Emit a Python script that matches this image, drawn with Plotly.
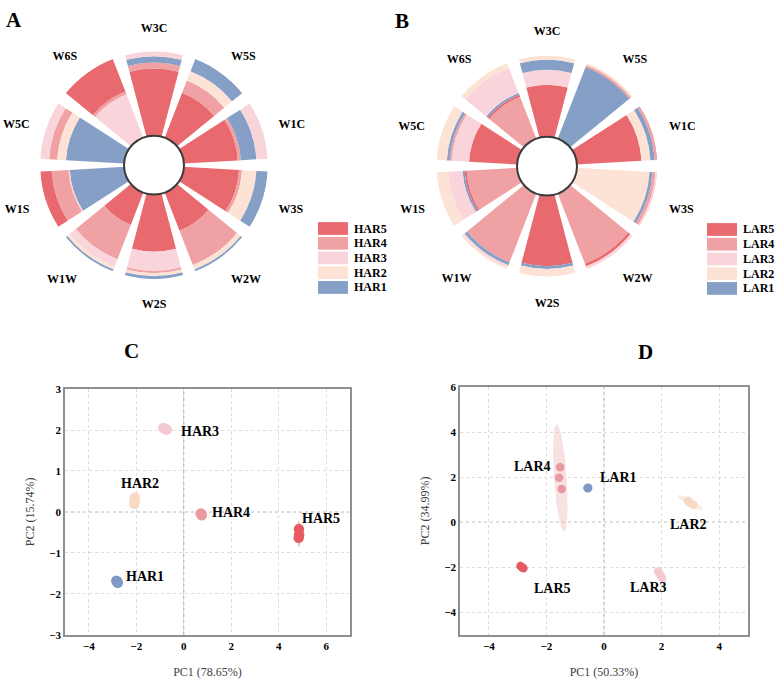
import numpy as np
import plotly.graph_objects as go

W, H = 776, 681
SERIF = "Liberation Serif"

# ---------------- data: rose charts (percent share per category) ----------------
CATEGORIES = ["W3C", "W5S", "W1C", "W3S", "W2W", "W2S", "W1W", "W1S", "W5C", "W6S"]

HAR5 = [79.5, 57.0, 64.5, 66.0, 48.5, 67.5, 41.0, 13.5, 0.0, 41.5]
HAR4 = [7.0, 15.5, 3.5, 3.5, 43.5, 2.5, 43.5, 20.0, 9.5, 3.5]
HAR3 = [6.0, 0.0, 13.5, 0.0, 0.0, 23.0, 9.5, 1.5, 10.5, 55.0]
HAR2 = [0.0, 12.0, 0.0, 17.0, 5.5, 3.5, 3.5, 0.0, 10.5, 0.0]
HAR1 = [7.5, 15.5, 18.5, 13.5, 2.5, 3.5, 2.5, 65.0, 69.5, 0.0]
# stacking order per category, inside -> outside (series number)
HAR_ORDER = ["54132", "54213", "54132", "54213", "54213",
             "53421", "54321", "13452", "12435", "34512"]

LAR5 = [64.0, 0.0, 80.5, 0.0, 3.5, 87.0, 0.0, 2.5, 60.0, 2.5]
LAR4 = [0.0, 2.5, 3.5, 3.5, 93.0, 0.0, 91.0, 63.0, 2.5, 55.5]
LAR3 = [18.5, 0.0, 0.0, 2.5, 3.5, 0.0, 2.5, 18.0, 21.5, 33.5]
LAR2 = [5.0, 2.5, 11.0, 90.5, 0.0, 9.5, 2.5, 14.0, 12.5, 6.0]
LAR1 = [12.5, 95.0, 5.0, 3.5, 0.0, 3.5, 4.0, 2.5, 3.5, 2.5]
LAR_ORDER = ["53124", "14235", "52143", "21435", "45312",
             "51234", "41325", "45132", "53412", "45132"]

SERIES_NUM = [5, 4, 3, 2, 1]
COLORS = {5: "#E8696E", 4: "#EFA1A4", 3: "#FAD4DB", 2: "#FCE3D5", 1: "#859FC6"}

# ---------------- data: PCA scores (replicates) ----------------
HAR_GROUPS = ["HAR1", "HAR2", "HAR3", "HAR4", "HAR5"]
HAR_PC1 = [[-2.84, -2.78, -2.80], [-2.08, -2.07, -2.06], [-0.86, -0.78, -0.71],
           [0.71, 0.76, 0.75], [4.85, 4.86, 4.84]]
HAR_PC2 = [[-1.68, -1.73, -1.70], [0.20, 0.28, 0.35], [2.05, 2.03, 2.01],
           [-0.04, -0.08, -0.05], [-0.42, -0.55, -0.63]]
HAR_ELL_A = [0.0, 0.17, 0.16, 0.0, 0.34]      # semi-major
HAR_ELL_B = [0.0, 0.05, 0.05, 0.0, 0.05]      # semi-minor
HAR_ELL_ANG = [0.0, 90.0, -5.0, 0.0, 90.0]    # degrees

LAR_GROUPS = ["LAR1", "LAR2", "LAR3", "LAR4", "LAR5"]
LAR_PC1 = [[-0.57, -0.56, -0.55], [2.92, 2.96, 3.10], [1.88, 1.95, 2.01],
           [-1.52, -1.56, -1.47], [-2.90, -2.85, -2.80]]
LAR_PC2 = [[1.52, 1.51, 1.53], [0.95, 0.88, 0.78], [-2.20, -2.34, -2.46],
           [2.44, 1.97, 1.48], [-1.95, -2.00, -2.05]]
LAR_ELL_A = [0.0, 0.55, 0.42, 2.38, 0.14]
LAR_ELL_B = [0.0, 0.13, 0.11, 0.22, 0.05]
LAR_ELL_ANG = [0.0, -37.0, -61.0, 93.0, -40.0]

GROUP_COLOR = {"1": "#7F98C4", "2": "#F8D9C4", "3": "#F5C9D2", "4": "#E99A9E", "5": "#E45B61"}
ELL_COLOR = {"1": "rgba(127,152,196,0.35)", "2": "rgba(248,210,185,0.45)",
             "3": "rgba(240,190,200,0.45)", "4": "rgba(238,180,182,0.40)",
             "5": "rgba(228,91,97,0.55)"}

fig = go.Figure()


def px2paper_x(px):
    return px / W


def px2paper_y(py):
    return 1 - py / H


# ---------------- rose charts ----------------
def add_rose(series_list, order, prefix, polar_id):
    lookup = dict(zip(SERIES_NUM, series_list))
    for level in range(5):
        r, col, names = [], [], []
        for ci in range(len(CATEGORIES)):
            s = int(order[ci][level])
            r.append(lookup[s][ci])
            col.append(COLORS[s])
            names.append(f"{prefix}{s}")
        fig.add_trace(go.Barpolar(
            r=r, theta=CATEGORIES, subplot=polar_id, showlegend=False,
            marker=dict(color=col, line=dict(width=0)),
            customdata=names, hovertemplate="%{theta} %{customdata}: %{r}%<extra></extra>"))


add_rose([HAR5, HAR4, HAR3, HAR2, HAR1], HAR_ORDER, "HAR", "polar")
add_rose([LAR5, LAR4, LAR3, LAR2, LAR1], LAR_ORDER, "LAR", "polar2")

# polar geometry (pixels)
A_C, A_R, HOLE_R = (154, 162), 116, 30
B_C, B_R = (547, 163), 112.5


def polar_layout(center, radius, ticklen):
    cx, cy = center
    return dict(
        domain=dict(x=[px2paper_x(cx - radius), px2paper_x(cx + radius)],
                    y=[px2paper_y(cy + radius), px2paper_y(cy - radius)]),
        hole=HOLE_R / radius, bargap=0.18, bgcolor="rgba(0,0,0,0)", barmode="stack",
        radialaxis=dict(visible=False, range=[0, 100]),
        angularaxis=dict(type="category", direction="clockwise", rotation=90,
                         showgrid=False, showline=False, ticks="outside", ticklen=ticklen,
                         tickcolor="rgba(0,0,0,0)",
                         tickfont=dict(family=SERIF, size=12, color="black", weight="bold")))


shapes, annotations = [], []
for (cx, cy) in (A_C, B_C):
    shapes.append(dict(type="circle", xref="paper", yref="paper",
                       x0=px2paper_x(cx - HOLE_R), x1=px2paper_x(cx + HOLE_R),
                       y0=px2paper_y(cy + HOLE_R), y1=px2paper_y(cy - HOLE_R),
                       line=dict(color="#3b3b3b", width=2), fillcolor="white"))

# legends for rose charts
for prefix, (lx, ly) in (("HAR", (318, 220)), ("LAR", (707, 221))):
    for i, s in enumerate(SERIES_NUM):
        top = ly + i * 15
        shapes.append(dict(type="rect", xref="paper", yref="paper",
                           x0=px2paper_x(lx), x1=px2paper_x(lx + 30),
                           y0=px2paper_y(top + 13), y1=px2paper_y(top),
                           fillcolor=COLORS[s], line=dict(width=0)))
        annotations.append(dict(xref="paper", yref="paper", x=px2paper_x(lx + 34),
                                y=px2paper_y(top + 6.5), text=f"{prefix}{s}",
                                showarrow=False, xanchor="left", yanchor="middle",
                                font=dict(family=SERIF, size=12, color="black", weight="bold")))


# ---------------- PCA scatter ----------------
def ellipse_xy(cx, cy, a, b, ang):
    t = np.linspace(0, 2 * np.pi, 80)
    th = np.deg2rad(ang)
    x = cx + a * np.cos(t) * np.cos(th) - b * np.sin(t) * np.sin(th)
    y = cy + a * np.cos(t) * np.sin(th) + b * np.sin(t) * np.cos(th)
    return x, y


def add_pca(groups, pc1, pc2, ea, eb, eang, xa, ya, label_shift, msize):
    for gi, g in enumerate(groups):
        key = g[-1]
        mx, my = float(np.mean(pc1[gi])), float(np.mean(pc2[gi]))
        if ea[gi] > 0:
            ex, ey = ellipse_xy(mx, my, ea[gi], eb[gi], eang[gi])
            fig.add_trace(go.Scatter(x=ex, y=ey, mode="lines", fill="toself",
                                     fillcolor=ELL_COLOR[key], line=dict(width=0),
                                     xaxis=xa, yaxis=ya, showlegend=False, hoverinfo="skip"))
        fig.add_trace(go.Scatter(x=pc1[gi], y=pc2[gi], mode="markers", name=g,
                                 marker=dict(size=msize, color=GROUP_COLOR[key], line=dict(width=0)),
                                 xaxis=xa, yaxis=ya, showlegend=False))
        dx, dy = label_shift[g]
        annotations.append(dict(xref=xa, yref=ya, x=mx, y=my, text=g, showarrow=False,
                                xshift=dx, yshift=dy,
                                font=dict(family=SERIF, size=14, color="black", weight="bold")))


add_pca(HAR_GROUPS, HAR_PC1, HAR_PC2, HAR_ELL_A, HAR_ELL_B, HAR_ELL_ANG, "x", "y",
        {"HAR1": (28, 5), "HAR2": (5, 17), "HAR3": (35, -3), "HAR4": (30, 2), "HAR5": (22, 15)}, 10.5)
add_pca(LAR_GROUPS, LAR_PC1, LAR_PC2, LAR_ELL_A, LAR_ELL_B, LAR_ELL_ANG, "x2", "y2",
        {"LAR1": (31, 10), "LAR2": (-2, -22), "LAR3": (-12, -13), "LAR4": (-28, 12), "LAR5": (31, -21)}, 8.5)

for xa, ya in (("x", "y"), ("x2", "y2")):
    shapes.append(dict(type="line", xref=xa, yref=f"{ya} domain", x0=0, x1=0, y0=0, y1=1,
                       line=dict(color="#a5a5a5", width=1, dash="dot"), layer="below"))
    shapes.append(dict(type="line", xref=f"{xa} domain", yref=ya, x0=0, x1=1, y0=0, y1=0,
                       line=dict(color="#a5a5a5", width=1, dash="dot"), layer="below"))

axis_common = dict(showgrid=True, gridcolor="#dcdcdc", griddash="dot", gridwidth=1,
                   zeroline=False, showline=True, linecolor="#8f8f8f", linewidth=1.5,
                   mirror=True, ticks="", tickfont=dict(family=SERIF, size=11, color="black",
                                                         weight="bold"))
title_font = dict(family=SERIF, size=12, color="#404040")

fig.update_layout(
    width=W, height=H, margin=dict(l=0, r=0, t=0, b=0),
    paper_bgcolor="white", plot_bgcolor="white", showlegend=False,
    polar=polar_layout(A_C, A_R, 14), polar2=polar_layout(B_C, B_R, 15),
    xaxis=dict(domain=[px2paper_x(65), px2paper_x(350)], anchor="y", range=[-5, 7],
               tick0=0, dtick=2, title=dict(text="PC1 (78.65%)", font=title_font, standoff=17),
               **axis_common),
    yaxis=dict(domain=[px2paper_y(640), px2paper_y(390)], anchor="x", range=[-3, 3],
               tick0=0, dtick=1, title=dict(text="PC2 (15.74%)", font=title_font, standoff=12),
               **axis_common),
    xaxis2=dict(domain=[px2paper_x(460), px2paper_x(748)], anchor="y2", range=[-5, 5],
                tick0=0, dtick=2, title=dict(text="PC1 (50.33%)", font=title_font, standoff=17),
                **axis_common),
    yaxis2=dict(domain=[px2paper_y(640), px2paper_y(388)], anchor="x2", range=[-5, 6],
                tick0=0, dtick=2, title=dict(text="PC2 (34.99%)", font=title_font, standoff=12),
                **axis_common),
)

for letter, (lx, ly) in (("A", (13.5, 14)), ("B", (402, 15)), ("C", (131.5, 351)), ("D", (645.5, 352))):
    annotations.append(dict(xref="paper", yref="paper", x=px2paper_x(lx), y=px2paper_y(ly),
                            text=letter, showarrow=False, xanchor="center", yanchor="middle",
                            font=dict(family=SERIF, size=21, color="black", weight="bold")))

fig.update_layout(shapes=shapes, annotations=annotations)
fig.write_html("out.html")
